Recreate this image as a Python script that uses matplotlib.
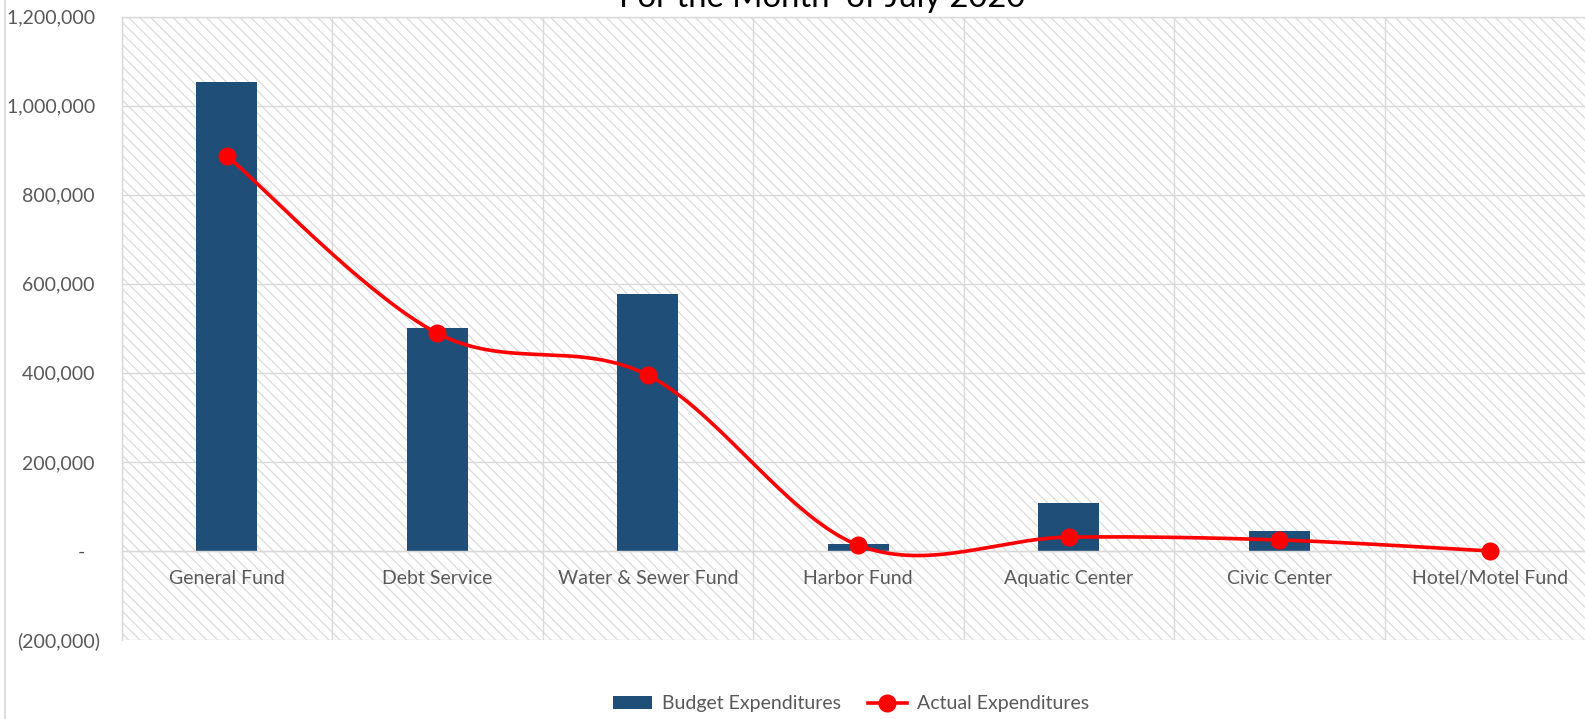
import numpy as np
import matplotlib
matplotlib.use("Agg")
import matplotlib.pyplot as plt
from matplotlib.patches import Rectangle, Patch
from matplotlib.lines import Line2D
from matplotlib.ticker import FixedLocator, FuncFormatter

# ---------------- data ----------------
categories = ["General Fund", "Debt Service", "Water & Sewer Fund", "Harbor Fund",
              "Aquatic Center", "Civic Center", "Hotel/Motel Fund"]
budget = [1053000, 500000, 577000, 15700, 107000, 45600, 0]
actual = [888000, 489000, 395000, 13000, 31000, 24700, 0]
y_ticks = [-200000, 0, 200000, 400000, 600000, 800000, 1000000, 1200000]
title = "For the Month  of July 2020"
series_names = ["Budget Expenditures", "Actual Expenditures"]

# ---------------- style ----------------
FONT = ["Lato", "DejaVu Sans"]
plt.rcParams["font.family"] = FONT
plt.rcParams["hatch.linewidth"] = 0.9
TXT = "#595959"
GRID = "#D9D9D9"
BAR = "#1F4E79"
RED = "#FF0000"
FS = 14

W, H = 1585, 719
fig = plt.figure(figsize=(W / 100, H / 100), dpi=100)
ax = fig.add_axes([121.5 / W, 1 - 640 / H, 1473.5 / W, (640 - 16.7) / H])

# hatched plot-area background
bg = Rectangle((0, 0), 1, 1, transform=ax.transAxes, facecolor="white",
               edgecolor="#DCDCDC", hatch="\\\\\\", linewidth=0, zorder=0.1)
ax.add_patch(bg)
ax.patch.set_visible(False)

x = np.arange(len(categories))
ax.bar(x, budget, width=0.29, color=BAR, zorder=2)


def smooth(xs, ys, n=60):
    xs = np.asarray(xs, float)
    ys = np.asarray(ys, float)
    P = np.column_stack([xs, ys])
    Pe = np.vstack([P[0], P, P[-1]])
    out = []
    for i in range(len(P) - 1):
        p0, p1, p2, p3 = Pe[i], Pe[i + 1], Pe[i + 2], Pe[i + 3]
        c1 = p1 + (p2 - p0) / 6.0
        c2 = p2 - (p3 - p1) / 6.0
        t = np.linspace(0, 1, n)[:, None]
        seg = ((1 - t) ** 3) * p1 + 3 * ((1 - t) ** 2) * t * c1 + 3 * (1 - t) * t ** 2 * c2 + t ** 3 * p2
        out.append(seg if i == 0 else seg[1:])
    out = np.vstack(out)
    return out[:, 0], out[:, 1]


sx, sy = smooth(x, actual)
ax.plot(sx, sy, color=RED, lw=2.6, zorder=3, solid_capstyle="round")
ax.plot(x, actual, linestyle="none", marker="o", ms=12, color=RED, zorder=4)

ax.set_xlim(-0.5, len(categories) - 0.5)
ax.set_ylim(y_ticks[0], y_ticks[-1])

# gridlines
ax.yaxis.set_major_locator(FixedLocator(y_ticks))
ax.xaxis.set_minor_locator(FixedLocator(np.arange(-0.5, len(categories), 1.0)))
ax.set_axisbelow(True)
ax.grid(axis="y", which="major", color=GRID, lw=1.0, zorder=0.5)
ax.grid(axis="x", which="minor", color=GRID, lw=1.0, zorder=0.5)
ax.tick_params(axis="x", which="both", length=0)


def yfmt(v, pos):
    if v == 0:
        return "-   "
    if v < 0:
        return "({:,.0f})".format(-v)
    return "{:,.0f} ".format(v)


ax.yaxis.set_major_formatter(FuncFormatter(yfmt))
ax.tick_params(axis="y", length=0, pad=15.5, labelsize=FS, labelcolor=TXT)

# category labels along the zero axis
ax.set_xticks(x)
ax.set_xticklabels(categories)
ax.spines["bottom"].set_position(("data", 0))
ax.tick_params(axis="x", which="major", pad=13.5, labelsize=FS, labelcolor=TXT)

for s in ["left", "right", "top", "bottom"]:
    ax.spines[s].set_color(GRID)
    ax.spines[s].set_linewidth(1.0)

# title (partly cut off at the top)
fig.text(822 / W, 1 - 7 / H, title, ha="center", va="baseline",
         fontsize=23.6, color="#000000")

# outer chart border on the left
fig.add_artist(Line2D([4.5 / W, 4.5 / W], [0, 1], transform=fig.transFigure,
                      color=GRID, lw=1.2))

# legend
handles = [Patch(facecolor=BAR, edgecolor="none"),
           Line2D([0], [0], color=RED, lw=2.6, marker="o", ms=12)]
fig.legend(handles, series_names, loc="center", bbox_to_anchor=(851 / W, 1 - 704 / H),
           ncol=2, frameon=False, fontsize=FS, labelcolor=TXT,
           handlelength=2.0, handleheight=0.65, handletextpad=0.5, columnspacing=1.4)

fig.savefig("out.png", dpi=100)
